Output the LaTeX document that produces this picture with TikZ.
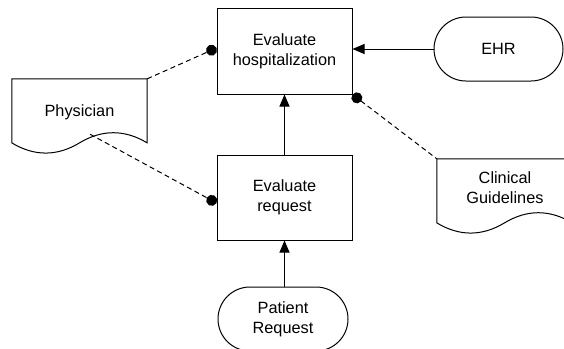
\documentclass[tikz,border=0pt]{standalone}
\usepackage{fontspec}
\setmainfont{Liberation Sans}
\usetikzlibrary{arrows.meta,calc}

% Outline of a "document" shape laid over a named frame node:
% straight top and sides, wavy bottom edge.
\newcommand\docoutline[1]{%
  \draw[line width=1pt] let \p1=(#1.north west), \p2=(#1.south east),
      \n1={\x2-\x1}, \n2={\y1-\y2} in
    (\x1,\y1) -- (\x2,\y1) -- (\x2,{\y2+0.15*\n2})
    .. controls ({\x2-\n1/6},{\y2+0.33*\n2}) and ({\x1+2*\n1/3},{\y2+0.33*\n2})
    .. ({\x1+\n1/2},{\y2+0.15*\n2})
    .. controls ({\x1+\n1/3},{\y2-0.03*\n2}) and ({\x1+\n1/6},{\y2-0.03*\n2})
    .. (\x1,{\y2+0.15*\n2}) -- cycle;}

\begin{document}
\begin{tikzpicture}[x=1pt,y=-1pt,
  every node/.style={font=\fontsize{16.3}{20}\selectfont, align=center, inner sep=0pt},
  process/.style={draw, line width=1pt, minimum width=135pt, minimum height=86pt},
  terminal/.style={draw, line width=1pt, rounded corners=32pt,
                   minimum width=130pt, minimum height=64pt},
  docframe/.style={minimum width=135pt, minimum height=75pt},
  flow/.style={line width=1pt, -{Triangle[length=12pt,width=10pt]}},
  assoc/.style={line width=1pt, dash pattern=on 5pt off 3.5pt}]

\useasboundingbox (0,0) rectangle (564,348);

% activities
\node[process] (eh) at (284.5,51) {Evaluate\\hospitalization};
\node[process, minimum height=85pt] (req) at (284.5,197.5) {Evaluate\\request};

% terminals
\node[terminal, minimum width=129pt] (ehr) at (498.5,49) {EHR};
\node[terminal] (pat) at (283,319) {Patient\\Request};

% documents
\node[docframe] (phys) at (79.5,116.5) {};
\docoutline{phys}
\node (physlbl) at (79.5,112) {Physician};

\node[docframe] (clin) at (504.5,196.5) {};
\docoutline{clin}
\node (clinlbl) at (505,188) {Clinical\\Guidelines};

% flows
\draw[flow] (ehr.west) -- (ehr.west -| eh.east);
\draw[flow] (req.north) -- (eh.south);
\draw[flow] (req.south |- pat.north) -- (req.south);

% associations
\draw[assoc, -{Circle[length=11pt]}] (phys.north east) -- ($(eh.west)+(0,-3)$);
\draw[assoc, -{Circle[length=11pt]}] ($(phys.south)+(10.5,-20)$) -- ($(req.west)+(0,5.5)$);
\draw[assoc, {Circle[length=11pt]}-] (eh.south east) -- (clin.north west);

\end{tikzpicture}
\end{document}
